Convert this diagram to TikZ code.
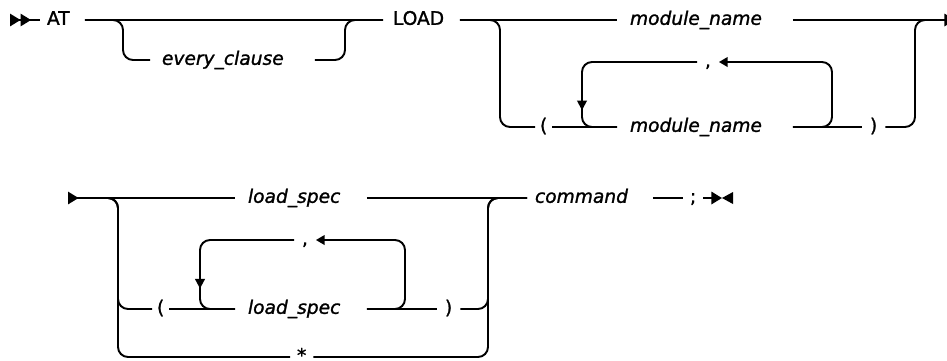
\documentclass[tikz,border=0pt]{standalone}
\usepackage{fontspec}
\setmainfont{DejaVu Sans}[FakeBold=1.3]
\usetikzlibrary{arrows.meta,decorations.markings}

\begin{document}
\begin{tikzpicture}[
  x=0.02cm,y=-0.02cm,
  line width=1.1pt,
  kw/.style={font=\fontsize{10.6}{12}\selectfont,anchor=mid west,
    inner ysep=0pt,outer sep=0pt,align=left},
  var/.style={kw,font=\fontsize{10.6}{12}\selectfont\itshape},
  rail/.style={rounded corners=0.2cm},
  endtip/.style={-{Triangle[length=5pt,width=5.5pt]}},
  loopdown/.style={postaction={decorate},decoration={markings,
    mark=at position #1 with {\arrow{Triangle[length=5.5pt,width=5.5pt]}}}},
  >=Stealth
]
\useasboundingbox (0,0) rectangle (947,360);
% row one
\coordinate (begin) at (10,20);
\node[kw,inner xsep=0.14cm,text width=0.62cm] (atk) at (40,20) {AT};
\node[var,inner xsep=0.24cm,text width=2.82cm] (every) at (150,60) {every\_clause};
\node[kw,inner xsep=0.2cm,text width=1.14cm] (load) at (383,20) {LOAD};
\node[var,inner xsep=0.26cm,text width=3cm] (mod) at (617,20) {module\_name};
\node[kw,inner xsep=0.1cm] (lpa) at (535,127) {(};
\node[var,inner xsep=0.26cm,text width=3cm] (modl) at (617,127) {module\_name};
\node[kw,inner xsep=0.16cm] (rpa) at (862,127) {)};
\node[kw,inner xsep=0.16cm] (coma) at (697,62) {,};
\coordinate (joina) at (935,20);
\coordinate (enda) at (955,20);
% row two
\coordinate (beginb) at (68,198);
\node[var,inner xsep=0.26cm,text width=2.12cm] (spec) at (235,198) {load\_spec};
\node[kw,inner xsep=0.1cm] (lpb) at (152,309) {(};
\node[var,inner xsep=0.26cm,text width=2.12cm] (specl) at (235,309) {load\_spec};
\node[kw,inner xsep=0.16cm] (rpb) at (437,309) {)};
\node[kw,inner xsep=0.16cm] (comb) at (294,240) {,};
\node[kw,inner xsep=0.14cm] (star) at (290,357) {*};
\node[var,inner xsep=0.16cm,text width=2.2cm] (cmd) at (527,198) {command};
\node[kw,inner xsep=0.14cm] (semi) at (683,198) {;};
\coordinate (endb) at (722,198);

\draw[{Triangle[reversed,length=6pt,width=7pt]Triangle[reversed,length=6pt,width=7pt]}-]
  (begin) -- (atk.mid west);
\draw (atk.mid east) -- (load.mid west);
\draw[rail] (atk.mid east) -| (123,40) |- (every.mid west);
\draw[rail] (every.mid east) -| (345,40) |- (load.mid west);
\draw (load.mid east) -- (mod.mid west);
\draw[-{Triangle[length=6pt,width=7pt]}] (mod.mid east) -- (enda);
\draw[rail] (load.mid east) -| (500,80) |- (lpa.mid west);
\draw (lpa.mid east) -- (modl.mid west);
\draw (modl.mid east) -- (rpa.mid west);
\draw[rail] (rpa.mid east) -| (915,80) |- (joina);
\draw[rail,endtip] (modl.mid east) -| (832,90) |- (coma.mid east);
\draw[rail,loopdown=0.77] (coma.mid west) -| (582,90) |- (modl.mid west);

\draw[{Triangle[reversed,length=6pt,width=7pt]}-] (beginb) -- (spec.mid west);
\draw[rail] (beginb) -| (118,250) |- (lpb.mid west);
\draw[rail] (beginb) -| (118,300) |- (star.mid west);
\draw (lpb.mid east) -- (specl.mid west);
\draw (specl.mid east) -- (rpb.mid west);
\draw[rail] (rpb.mid east) -| (488,250) |- (cmd.mid west);
\draw[rail] (star.mid east) -| (488,300) |- (cmd.mid west);
\draw (spec.mid east) -- (cmd.mid west);
\draw[rail,endtip] (specl.mid east) -| (405,270) |- (comb.mid east);
\draw[rail,loopdown=0.73] (comb.mid west) -| (200,270) |- (specl.mid west);
\draw (cmd.mid east) -- (semi.mid west);
\draw[-{Triangle[length=6pt,width=7pt]}] (semi.mid east) -- (endb);
\fill (endb) -- ++(11,-6) -- ++(0,12) -- cycle;
\end{tikzpicture}
\end{document}
